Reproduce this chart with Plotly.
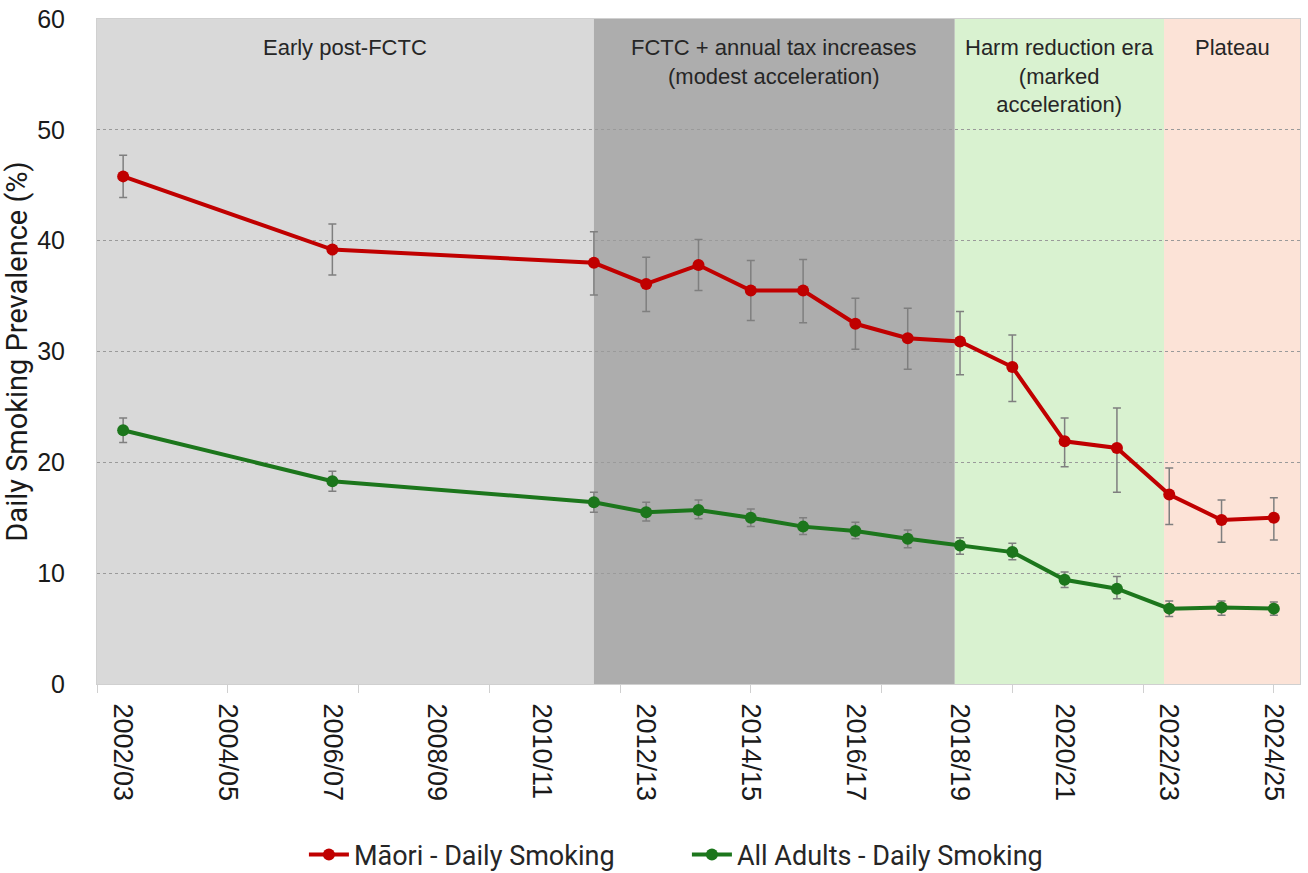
import plotly.graph_objects as go

# ---------------- data ----------------
survey_years = ["2002/03", "2006/07", "2011/12", "2012/13", "2013/14", "2014/15",
                "2015/16", "2016/17", "2017/18", "2018/19", "2019/20", "2020/21",
                "2021/22", "2022/23", "2023/24", "2024/25"]

maori_daily = [45.8, 39.2, 38.0, 36.1, 37.8, 35.5, 35.5, 32.5, 31.2, 30.9, 28.6, 21.9,
               21.3, 17.1, 14.8, 15.0]
maori_upper = [47.7, 41.5, 40.8, 38.5, 40.1, 38.2, 38.3, 34.8, 33.9, 33.6, 31.5, 24.0,
               24.9, 19.5, 16.6, 16.8]
maori_lower = [43.9, 36.9, 35.1, 33.6, 35.5, 32.8, 32.6, 30.2, 28.4, 27.9, 25.5, 19.6,
               17.3, 14.4, 12.8, 13.0]

all_daily = [22.9, 18.3, 16.4, 15.5, 15.7, 15.0, 14.2, 13.8, 13.1, 12.5, 11.9, 9.4,
             8.6, 6.8, 6.9, 6.8]
all_upper = [24.0, 19.2, 17.3, 16.4, 16.6, 15.8, 15.0, 14.6, 13.9, 13.2, 12.7, 10.1,
             9.7, 7.5, 7.5, 7.4]
all_lower = [21.8, 17.4, 15.5, 14.7, 14.9, 14.2, 13.5, 13.1, 12.3, 11.7, 11.2, 8.7,
             7.7, 6.1, 6.2, 6.2]

tick_labels = ["2002/03", "2004/05", "2006/07", "2008/09", "2010/11", "2012/13",
               "2014/15", "2016/17", "2018/19", "2020/21", "2022/23", "2024/25"]

period_names = ["Early post-FCTC",
                "FCTC + annual tax increases<br>(modest acceleration)",
                "Harm reduction era<br>(marked<br>acceleration)",
                "Plateau"]
period_start = [2001.5, 2011.0, 2017.9, 2021.9]
period_end = [2011.0, 2017.9, 2021.9, 2024.5]
period_colors = ["#d9d9d9", "#adadad", "#d9f2d0", "#fce3d7"]

# numeric x from the fiscal-year start
x_vals = [int(s[:4]) for s in survey_years]
tick_vals = [int(s[:4]) for s in tick_labels]

RED = "#c00000"
GREEN = "#1c761c"
ERR = "#7f7f7f"
FONT = "Liberation Sans, Arial, sans-serif"
NARROW = "Roboto, sans-serif"

fig = go.Figure()

fig.add_trace(go.Scatter(
    x=x_vals, y=maori_daily, mode="lines+markers", name="Māori - Daily Smoking",
    line=dict(color=RED, width=4), marker=dict(color=RED, size=12),
    error_y=dict(type="data", symmetric=False,
                 array=[u - v for u, v in zip(maori_upper, maori_daily)],
                 arrayminus=[v - l for v, l in zip(maori_daily, maori_lower)],
                 color=ERR, thickness=1.5, width=4),
))
fig.add_trace(go.Scatter(
    x=x_vals, y=all_daily, mode="lines+markers", name="All Adults - Daily Smoking",
    line=dict(color=GREEN, width=4), marker=dict(color=GREEN, size=12),
    error_y=dict(type="data", symmetric=False,
                 array=[u - v for u, v in zip(all_upper, all_daily)],
                 arrayminus=[v - l for v, l in zip(all_daily, all_lower)],
                 color=ERR, thickness=1.5, width=4),
))

for name, x0, x1, col in zip(period_names, period_start, period_end, period_colors):
    fig.add_shape(type="rect", xref="x", yref="paper", x0=x0, x1=x1, y0=0, y1=1,
                  fillcolor=col, line=dict(width=0), layer="below")
    fig.add_annotation(x=(x0 + x1) / 2, xref="x", y=1, yref="paper", yanchor="top",
                       yshift=-14, text=name, showarrow=False,
                       font=dict(family=FONT, size=22, color="#262626"))

fig.update_layout(
    width=1308, height=873,
    margin=dict(l=97, r=8, t=19, b=189, autoexpand=False),
    paper_bgcolor="white", plot_bgcolor="white",
    showlegend=True,
    legend=dict(orientation="h", x=0.172, xanchor="left", y=-0.257, yanchor="middle",
                font=dict(family=NARROW, size=27, color="#262626"),
                itemwidth=40, entrywidth=328, entrywidthmode="pixels",
                tracegroupgap=0),
    font=dict(family=FONT, color="#262626"),
)

fig.update_xaxes(
    range=[2001.5, 2024.5], tickmode="array", tickvals=tick_vals, ticktext=tick_labels,
    tickangle=90, ticks="", ticklabelstandoff=13, automargin=False,
    tickfont=dict(family=FONT, size=27, color="#1a1a1a"),
    showgrid=False, zeroline=False,
    showline=True, linecolor="#d0d0d0", linewidth=1, mirror=True,
    minor=dict(tickmode="linear", tick0=2001.5, dtick=2.5, ticks="outside",
               ticklen=8, tickcolor="#d0d0d0", tickwidth=1, showgrid=False),
)
fig.update_yaxes(
    range=[0, 60], tickmode="linear", tick0=0, dtick=10, automargin=False,
    tickfont=dict(family=FONT, size=25, color="#1a1a1a"),
    ticks="", ticklabelstandoff=26,
    showgrid=True, gridcolor="#9a9a9a", griddash="dot", gridwidth=1,
    zeroline=False,
    showline=True, linecolor="#d0d0d0", linewidth=1, mirror=True,
    title=dict(text="Daily Smoking Prevalence (%)", standoff=10,
               font=dict(family=NARROW, size=29, color="#1a1a1a")),
)

fig.write_html("out.html")
